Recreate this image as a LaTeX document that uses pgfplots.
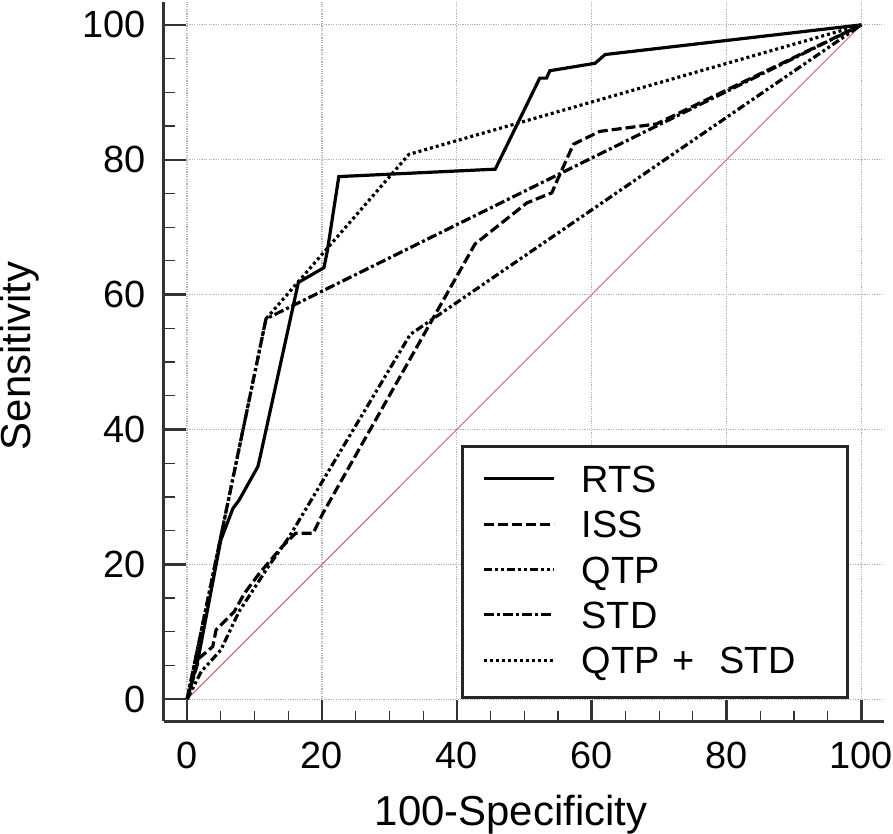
\documentclass[border=0pt]{standalone}
\usepackage{fontspec}
\setmainfont{Liberation Sans}
\usepackage{pgfplots}
\pgfplotsset{compat=1.18}
\definecolor{diagred}{RGB}{200,100,100}
\begin{document}
\begin{tikzpicture}
\begin{axis}[
  scale only axis, width=361.2pt, height=360.9pt,
  xmin=-3.45, xmax=103.4, ymin=-3.3, ymax=103.45,
  axis x line*=bottom, axis y line*=left,
  axis line style={line width=1.6pt, black!80, -},
  xtick={0,20,40,60,80,100}, ytick={0,20,40,60,80,100},
  minor tick num=3,
  tick align=inside,
  major tick length=11pt, minor tick length=5.5pt,
  every major tick/.append style={line width=1.2pt, black!80},
  every minor tick/.append style={line width=0.6pt, black!80},
  /pgf/number format/assume math mode=true,
  ticklabel style={font=\fontsize{19}{22}\selectfont, inner sep=0pt},
  xticklabel style={yshift=-10pt},
  yticklabel style={xshift=-8.85pt},
  xlabel={100-Specificity}, ylabel={Sensitivity},
  label style={font=\fontsize{21}{25}\selectfont, inner sep=0pt},
  xlabel style={at={(axis description cs:0.482,-0.129)}, anchor=center},
  ylabel style={at={(axis description cs:-0.2003,0.508)}, anchor=center},
  legend cell align=left,
  legend style={at={(0.9516,0.0315)}, anchor=south east, draw=black!85, line width=1.5pt, fill=white,
    font=\fontsize{19}{22}\selectfont, inner xsep=10pt, inner ysep=6.1pt, row sep=0pt, column sep=13pt,
    nodes={inner sep=0pt, text height=17.1pt, text depth=5.65pt, text width=123.5pt, align=left}},
  legend image code/.code={\draw[#1] (0pt,1.1pt) -- (35pt,1.1pt);},
]
\pgfplotsinvokeforeach{0,20,40,60,80,100}{
  \draw[gray!60, line width=0.6pt, dash pattern=on 0.6pt off 0.6pt] (axis cs:#1,0) -- (axis cs:#1,103.45);
  \draw[gray!60, line width=0.6pt, dash pattern=on 0.6pt off 0.6pt] (axis cs:0,#1) -- (axis cs:103.4,#1);
}
\addplot[forget plot, diagred, line width=0.5pt] coordinates {(0,0) (100,100)};

% RTS
\addplot[black, line width=1.6pt, solid] coordinates {
(0,0) (1.6,5.8) (5,23.6) (6.8,28.3) (7.7,29.5) (10.5,34.5) (10.8,35.8) (16.5,61.8) (20.3,64) (20.8,66.5)
(22.5,77.5) (45.7,78.6) (52.3,92.1) (53.3,92.1) (53.8,93.2) (60.5,94.3) (62,95.6) (100,100)};
\addlegendentry{RTS}
% ISS
\addplot[black, line width=1.6pt, dash pattern=on 5pt off 2pt] coordinates {
(0,0) (1.8,6.1) (3.8,7.8) (4.3,10.3) (7.0,13.0) (8.5,15.7) (10.9,18.9) (14,22.5) (16.1,24.6) (18.7,24.6)
(20.1,27.5) (42.7,67.5) (50.4,73.6) (54.1,75.1) (54.6,76.3) (57.3,82.3) (61.2,84.2) (69.6,85.3) (100,100)};
\addlegendentry{ISS}
% QTP
\addplot[black, line width=1.6pt, dash pattern=on 4pt off 1.5pt on 1.5pt off 1.5pt on 1.5pt off 1.5pt] coordinates {
(0,0) (2.1,4.1) (5,7.3) (7.7,13) (12.2,19.9) (15.1,24) (33.1,54.1) (100,100)};
\addlegendentry{QTP}
% STD
\addplot[black, line width=1.6pt, dash pattern=on 5pt off 1.5pt on 1.5pt off 1.5pt] coordinates {
(0,0) (11.7,56.4) (100,100)};
\addlegendentry{STD}
% QTP + STD
\addplot[black, line width=1.6pt, dash pattern=on 1.5pt off 1.5pt] coordinates {
(0,0) (11.7,56.4) (32.9,80.8) (100,100)};
\addlegendentry{QTP +\ \ STD}
\end{axis}
\end{tikzpicture}
\end{document}
